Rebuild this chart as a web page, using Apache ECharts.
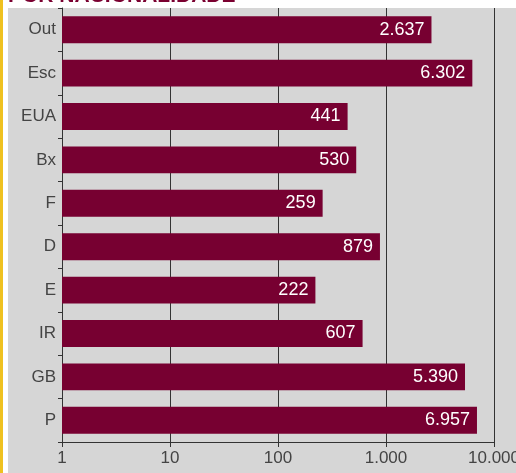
<!DOCTYPE html>
<html>
<head>
<meta charset="utf-8">
<script src="https://cdn.jsdelivr.net/npm/echarts@6/dist/echarts.min.js"></script>
<style>
html,body{margin:0;padding:0;background:#fff;}
#chart{width:516px;height:473px;}
</style>
</head>
<body>
<div id="chart"></div>
<script>
const categories = ['Out', 'Esc', 'EUA', 'Bx', 'F', 'D', 'E', 'IR', 'GB', 'P'];
const values = [2637, 6302, 441, 530, 259, 879, 222, 607, 5390, 6957];
const xTicks = [1, 10, 100, 1000, 10000];
const titleText = 'POR NACIONALIDADE';

function fmt(v) {
  return String(Math.round(v)).replace(/\B(?=(\d{3})+(?!\d))/g, '.');
}

const chart = echarts.init(document.getElementById('chart'), null, {renderer: 'canvas'});
const FONT = 'Liberation Sans';
chart.setOption({
  animation: false,
  backgroundColor: '#ffffff',
  graphic: [
    {type: 'rect', shape: {x: 8, y: 8, width: 508, height: 465}, style: {fill: '#d6d6d6'}, z: -10, silent: true},
    {type: 'rect', shape: {x: 0, y: 0, width: 3, height: 473}, style: {fill: '#efc11f'}, z: -10, silent: true},
    {type: 'text', left: 8, top: -14, style: {text: titleText, fill: '#7a0030', font: 'bold 21px "Liberation Sans"'}, silent: true}
  ],
  grid: {left: 62, right: 22, top: 8, bottom: 31, containLabel: false, outerBoundsMode: 'none'},
  xAxis: {
    type: 'log',
    logBase: 10,
    min: 1,
    max: 10000,
    axisLine: {show: true, lineStyle: {color: '#333', width: 1}},
    axisTick: {show: true, length: 5, lineStyle: {color: '#333'}},
    splitLine: {show: true, lineStyle: {color: '#333', width: 1}},
    axisLabel: {
      color: '#444', fontFamily: FONT, fontSize: 17, margin: 8, hideOverlap: false,
      formatter: function (v) { return xTicks.indexOf(v) >= 0 ? fmt(v) : ''; }
    }
  },
  yAxis: {
    type: 'category',
    data: categories,
    inverse: true,
    axisLine: {show: true, lineStyle: {color: '#333', width: 1}},
    axisTick: {show: true, length: 4, lineStyle: {color: '#333'}},
    axisLabel: {color: '#444', fontFamily: FONT, fontSize: 17, margin: 6}
  },
  series: [{
    type: 'bar',
    data: values,
    barWidth: '62%',
    itemStyle: {color: '#770031'},
    label: {
      show: true,
      position: 'insideRight',
      distance: 7,
      color: '#ffffff',
      fontFamily: FONT,
      fontSize: 18,
      formatter: function (p) { return fmt(p.value); }
    }
  }]
});
</script>
</body>
</html>
